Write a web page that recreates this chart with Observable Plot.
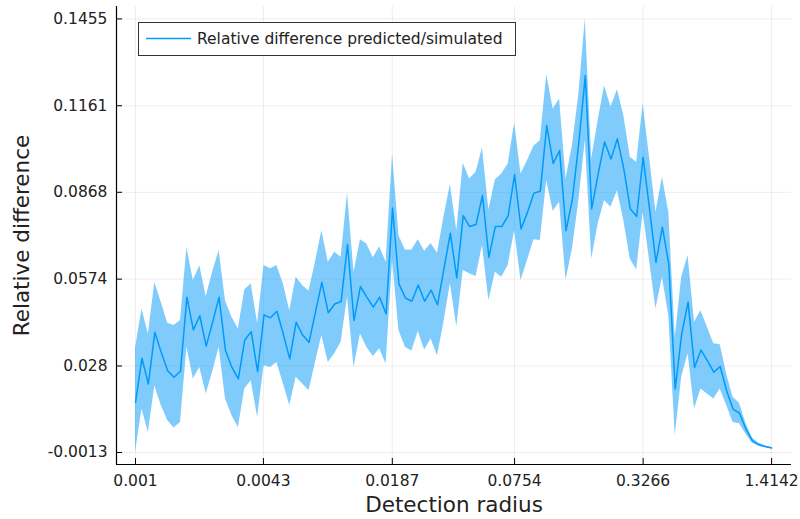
<!DOCTYPE html>
<html>
<head>
<meta charset="utf-8">
<script src="https://cdn.jsdelivr.net/npm/d3@7"></script>
<script src="https://cdn.jsdelivr.net/npm/@observablehq/plot@0.6"></script>
<style>
  html, body { margin: 0; padding: 0; background: #fff; }
  #chart { position: relative; width: 800px; height: 519px; }
</style>
</head>
<body>
<div id="chart"></div>
<script>
// Detection radius (log-spaced sweep from 0.001 to sqrt(2))
const radius = [0.001, 0.001076, 0.001158, 0.001246, 0.001341, 0.001443, 0.001552, 0.00167, 0.001797, 0.001934,
  0.002081, 0.002239, 0.002409, 0.002593, 0.00279, 0.003002, 0.00323, 0.003476, 0.00374, 0.004024,
  0.00433, 0.004659, 0.005013, 0.005395, 0.005805, 0.006246, 0.006721, 0.007232, 0.007782, 0.008373,
  0.00901, 0.009695, 0.01043, 0.01122, 0.01208, 0.013, 0.01398, 0.01505, 0.01619, 0.01742,
  0.01875, 0.02017, 0.02171, 0.02336, 0.02513, 0.02704, 0.0291, 0.03131, 0.03369, 0.03625,
  0.03901, 0.04197, 0.04516, 0.0486, 0.05229, 0.05626, 0.06054, 0.06514, 0.0701, 0.07543,
  0.08116, 0.08733, 0.09397, 0.1011, 0.1088, 0.1171, 0.126, 0.1356, 0.1459, 0.157,
  0.1689, 0.1817, 0.1956, 0.2104, 0.2264, 0.2436, 0.2621, 0.2821, 0.3035, 0.3266,
  0.3514, 0.3781, 0.4069, 0.4378, 0.4711, 0.5069, 0.5454, 0.5869, 0.6315, 0.6795,
  0.7312, 0.7868, 0.8466, 0.9109, 0.9802, 1.0547, 1.1349, 1.2212, 1.314, 1.4142];

// Mean relative difference predicted/simulated
const relDiff = [0.0157, 0.0306, 0.0219, 0.0394, 0.0326, 0.0264, 0.0242, 0.0262, 0.0513, 0.0402,
  0.0450, 0.0347, 0.0428, 0.0513, 0.0332, 0.0275, 0.0236, 0.0368, 0.0396, 0.0261,
  0.0453, 0.0443, 0.0465, 0.0388, 0.0304, 0.0428, 0.0385, 0.0360, 0.0462, 0.0563,
  0.0460, 0.0490, 0.0498, 0.0691, 0.0434, 0.0549, 0.0513, 0.0479, 0.0513, 0.0456,
  0.0815, 0.0558, 0.0510, 0.0499, 0.0554, 0.0499, 0.0537, 0.0487, 0.0609, 0.0729,
  0.0578, 0.0789, 0.0752, 0.0759, 0.0857, 0.0648, 0.0752, 0.0752, 0.0789, 0.0928,
  0.0744, 0.0800, 0.0865, 0.0872, 0.1094, 0.0966, 0.1009, 0.0738, 0.0846, 0.1038,
  0.1263, 0.0812, 0.0930, 0.1038, 0.0981, 0.1049, 0.0947, 0.0812, 0.0786, 0.0987,
  0.0812, 0.0631, 0.0750, 0.0625, 0.0202, 0.0388, 0.0496, 0.0275, 0.0334, 0.0298,
  0.0259, 0.0278, 0.0196, 0.0134, 0.0120, 0.0067, 0.0027, 0.0014, 0.0007, 0.0002];

// Upper edge of the spread band
const upper = [0.0340, 0.0473, 0.0388, 0.0563, 0.0496, 0.0425, 0.0417, 0.0434, 0.0680, 0.0569,
  0.0619, 0.0515, 0.0597, 0.0671, 0.0501, 0.0445, 0.0405, 0.0537, 0.0558, 0.0425,
  0.0620, 0.0609, 0.0620, 0.0558, 0.0467, 0.0580, 0.0552, 0.0533, 0.0631, 0.0738,
  0.0631, 0.0665, 0.0648, 0.0865, 0.0597, 0.0707, 0.0693, 0.0646, 0.0684, 0.0631,
  0.0996, 0.0721, 0.0673, 0.0673, 0.0707, 0.0668, 0.0695, 0.0662, 0.0784, 0.0894,
  0.0738, 0.0966, 0.0913, 0.0936, 0.1018, 0.0808, 0.0910, 0.0930, 0.0964, 0.1102,
  0.0930, 0.0975, 0.1024, 0.1043, 0.1267, 0.1150, 0.1184, 0.0913, 0.1026, 0.1201,
  0.1455, 0.0981, 0.1111, 0.1229, 0.1156, 0.1215, 0.1128, 0.0987, 0.0970, 0.1167,
  0.0987, 0.0800, 0.0919, 0.0800, 0.0377, 0.0580, 0.0654, 0.0428, 0.0467, 0.0411,
  0.0355, 0.0352, 0.0253, 0.0174, 0.0154, 0.0086, 0.0036, 0.0018, 0.0010, 0.0004];

// Lower edge of the spread band
const lower = [-0.0013, 0.0134, 0.0055, 0.0213, 0.0146, 0.0095, 0.0070, 0.0089, 0.0343, 0.0236,
  0.0275, 0.0185, 0.0259, 0.0343, 0.0168, 0.0112, 0.0072, 0.0202, 0.0230, 0.0106,
  0.0281, 0.0275, 0.0292, 0.0221, 0.0146, 0.0242, 0.0219, 0.0196, 0.0292, 0.0383,
  0.0292, 0.0321, 0.0360, 0.0513, 0.0275, 0.0388, 0.0343, 0.0312, 0.0338, 0.0287,
  0.0637, 0.0400, 0.0343, 0.0330, 0.0397, 0.0334, 0.0371, 0.0315, 0.0428, 0.0558,
  0.0413, 0.0603, 0.0592, 0.0583, 0.0688, 0.0501, 0.0597, 0.0580, 0.0620, 0.0738,
  0.0569, 0.0637, 0.0707, 0.0705, 0.0908, 0.0804, 0.0834, 0.0571, 0.0676, 0.0840,
  0.1043, 0.0642, 0.0761, 0.0840, 0.0817, 0.0874, 0.0772, 0.0642, 0.0605, 0.0800,
  0.0637, 0.0473, 0.0580, 0.0450, 0.0044, 0.0242, 0.0321, 0.0134, 0.0202, 0.0185,
  0.0168, 0.0202, 0.0146, 0.0089, 0.0084, 0.0050, 0.0018, 0.0008, 0.0003, 0.0000];

const xTicks = [0.001, 0.0043, 0.0187, 0.0754, 0.3266, 1.4142];
const xTickLabels = ["0.001", "0.0043", "0.0187", "0.0754", "0.3266", "1.4142"];
const yTicks = [-0.0013, 0.028, 0.0574, 0.0868, 0.1161, 0.1455];
const yTickLabels = ["-0.0013", "0.028", "0.0574", "0.0868", "0.1161", "0.1455"];

const xDomain = [0.000805, 1.774];
const yDomain = [-0.00536, 0.1497];

const seriesColor = "#009afa";
const font = "'DejaVu Sans', sans-serif";
const textColor = "#222";

const rows = radius.map((r, i) => ({r, v: relDiff[i], lo: lower[i], hi: upper[i]}));

const chart = Plot.plot({
  width: 800,
  height: 519,
  marginLeft: 116,
  marginRight: 9,
  marginTop: 6,
  marginBottom: 55,
  style: {fontFamily: font, fontSize: "15.5px", background: "#fff", color: textColor},
  x: {type: "log", domain: xDomain, label: null},
  y: {domain: yDomain, label: null},
  marks: [
    Plot.gridX(xTicks, {stroke: "#000", strokeOpacity: 0.1, strokeWidth: 0.7}),
    Plot.gridY(yTicks, {stroke: "#000", strokeOpacity: 0.1, strokeWidth: 0.7}),
    Plot.areaY(rows, {x: "r", y1: "lo", y2: "hi", fill: seriesColor, fillOpacity: 0.5}),
    Plot.lineY(rows, {x: "r", y: "v", stroke: seriesColor, strokeWidth: 1.5}),
    // axis spines
    Plot.ruleX([xDomain[0]], {stroke: "#000", strokeWidth: 1.2}),
    Plot.ruleY([yDomain[0]], {stroke: "#000", strokeWidth: 1.2}),
    // inward tick marks
    Plot.axisX(xTicks, {tickSize: 6, dy: -6, tickFormat: () => "", stroke: "#000", label: null}),
    Plot.axisY(yTicks, {tickSize: 6, dx: 6, tickFormat: () => "", stroke: "#000", label: null}),
    // tick labels
    Plot.text(xTicks, {x: d => d, frameAnchor: "bottom", lineAnchor: "top", dy: 10,
      text: (d, i) => xTickLabels[i], fill: textColor}),
    Plot.text(yTicks, {y: d => d, frameAnchor: "left", textAnchor: "end", dx: -9,
      text: (d, i) => yTickLabels[i], fill: textColor}),
    // axis titles
    Plot.text(["Detection radius"], {frameAnchor: "bottom", lineAnchor: "middle", dy: 41,
      fontSize: 21.5, fill: textColor}),
    Plot.text(["Relative difference"], {frameAnchor: "left", textAnchor: "middle", lineAnchor: "middle",
      rotate: -90, dx: -94, fontSize: 21.5, fill: textColor})
  ]
});

document.getElementById("chart").appendChild(chart);

// Legend box in the upper-left corner of the plot area
const svg = d3.select(chart);
const legend = svg.append("g").attr("class", "legend");
legend.append("rect")
  .attr("x", 138.5).attr("y", 22.5).attr("width", 377).attr("height", 33)
  .attr("fill", "#fff").attr("stroke", "#333").attr("stroke-width", 1);
legend.append("line")
  .attr("x1", 146).attr("x2", 191).attr("y1", 38.5).attr("y2", 38.5)
  .attr("stroke", seriesColor).attr("stroke-width", 1.5);
legend.append("text")
  .attr("x", 197).attr("y", 38.5).attr("dy", "0.35em")
  .attr("text-anchor", "start")
  .attr("font-family", font).attr("font-size", 15.5).attr("fill", textColor)
  .text("Relative difference predicted/simulated");
</script>
</body>
</html>
